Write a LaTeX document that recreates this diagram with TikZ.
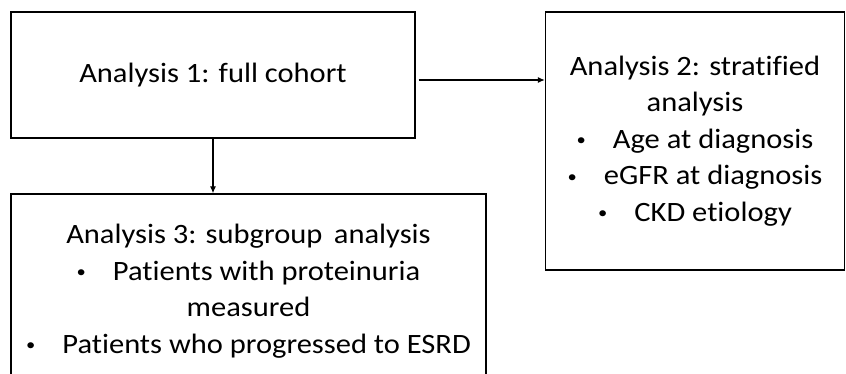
\documentclass[tikz,border=0pt]{standalone}
\usepackage{fontspec}
\setmainfont{Carlito}[FakeStretch=1.09,Ligatures=NoCommon]
\usetikzlibrary{arrows.meta}

% small list bullet, as in the slide
\newcommand{\anbullet}{\raisebox{2.5pt}{\fontsize{17}{17}\selectfont\textbullet}\hspace{27pt}}

\tikzset{
  anbox/.style={draw, line width=1.4pt, align=center, inner sep=0pt,
    font=\fontsize{28}{36.5}\selectfont},
  anarrow/.style={line width=1.1pt, -{Latex[length=7pt,width=6pt]}}
}

\begin{document}
\begin{tikzpicture}[x=1pt,y=-1pt]
\useasboundingbox (0,0) rectangle (846,374);
\clip (0,0) rectangle (846,374);
% the three analysis boxes
\node[anbox, minimum width=404pt, minimum height=126pt] (analysisone) at (213,75)
  {Analysis 1: full cohort};
\node[anbox, minimum width=299pt, minimum height=258pt] (analysistwo) at (695,141)
  {Analysis 2: stratified\\ analysis\\
   \anbullet Age at diagnosis\\
   \anbullet eGFR at diagnosis\\
   \anbullet CKD etiology};
\node[anbox, minimum width=475pt, minimum height=194pt] (analysisthree) at (248.5,291)
  {Analysis 3: subgroup\, analysis\\
   \anbullet Patients with proteinuria\\
   measured\\
   \anbullet Patients who progressed to ESRD};
% connectors
\draw[anarrow] ([shift={(3pt,-5pt)}]analysisone.east)
  -- ([yshift=-5pt]analysisone.east -| analysistwo.west);
\draw[anarrow] (analysisone.south) -- (analysisone.south |- analysisthree.north);
\end{tikzpicture}
\end{document}
